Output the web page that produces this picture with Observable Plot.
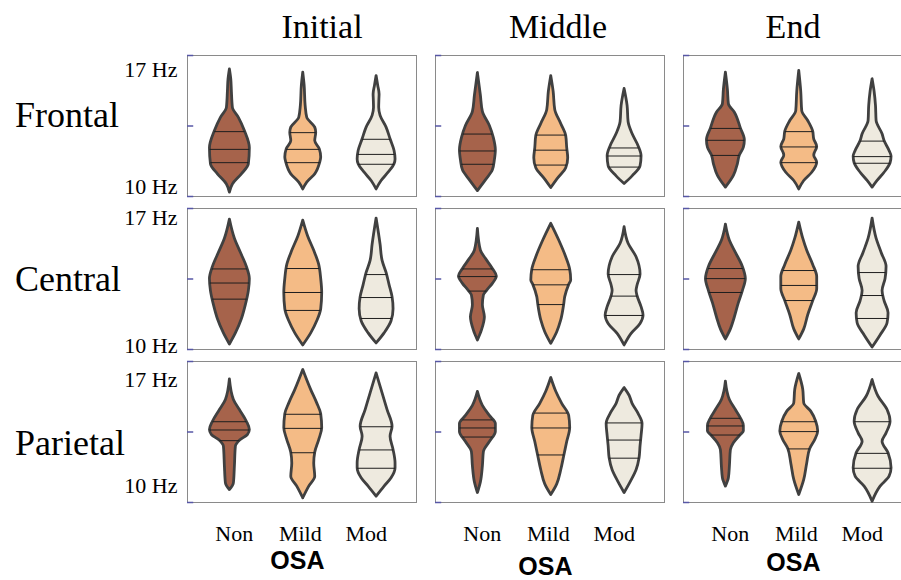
<!DOCTYPE html>
<html><head><meta charset="utf-8">
<script src="https://cdn.jsdelivr.net/npm/d3@7"></script>
<script src="https://cdn.jsdelivr.net/npm/@observablehq/plot@0.6"></script>
<style>html,body{margin:0;padding:0;background:#fff;overflow:hidden} svg{max-width:none !important}</style>
</head><body><div id="chart"></div>
<script>
// ---- data ----
const columns = ["Initial", "Middle", "End"];
const rows = ["Frontal", "Central", "Parietal"];
const groups = ["Non", "Mild", "Mod"];
const groupColors = ["#a6634b", "#f4bb86", "#eeeadf"];
const yTicks = [10, 13.5, 17];
const yTickLabels = [[17, "17 Hz"], [10, "10 Hz"]];
const axisTitle = "OSA";

// violin profiles: [Hz, relative density] bottom to top, for Non, Mild, Mod
const profFrontalInitial = [
  [[10.19,0],[10.6,0.15],[11.1,0.6],[11.6,0.95],[12.4,1.0],[13.25,0.75],[13.9,0.45],[14.4,0.15],[15.2,0.1],[15.8,0.07],[16.31,0]],
  [[10.35,0],[10.69,0.2],[11.1,0.6],[11.68,0.85],[11.93,0.9],[12.34,0.83],[12.75,0.6],[13.17,0.65],[13.42,0.6],[13.91,0.2],[14.5,0.12],[15.5,0.07],[16.15,0]],
  [[10.35,0],[10.77,0.25],[11.18,0.6],[11.6,0.9],[11.84,0.95],[12.26,0.9],[12.84,0.7],[13.42,0.5],[14.0,0.2],[14.41,0.13],[14.8,0.14],[15.07,0.15],[15.5,0.08],[15.98,0]]
];
const profFrontalMiddle = [
  [[10.27,0],[10.8,0.4],[11.3,0.75],[11.8,0.85],[12.3,0.9],[12.9,0.8],[13.5,0.6],[14.2,0.25],[15.0,0.15],[16.13,0]],
  [[10.42,0],[10.9,0.35],[11.4,0.75],[11.9,0.85],[12.4,0.8],[13.0,0.75],[13.6,0.5],[14.3,0.2],[15.2,0.12],[15.98,0]],
  [[10.62,0],[11.0,0.4],[11.5,0.8],[12.0,0.85],[12.5,0.7],[13.1,0.4],[13.7,0.2],[14.5,0.15],[15.34,0]]
];
const profFrontalEnd = [
  [[10.44,0],[11.02,0.4],[11.6,0.6],[12.04,0.7],[12.42,0.9],[12.79,0.95],[13.38,0.75],[14.16,0.45],[14.58,0.15],[15.3,0.1],[16.15,0]],
  [[10.35,0],[10.77,0.25],[11.18,0.65],[11.68,0.9],[12.04,0.75],[12.46,0.9],[12.84,0.75],[13.22,0.7],[13.75,0.45],[14.24,0.15],[15.2,0.1],[16.23,0]],
  [[10.44,0],[10.77,0.25],[11.18,0.6],[11.65,0.9],[11.98,0.95],[12.26,0.85],[12.75,0.6],[13.09,0.5],[13.75,0.2],[14.5,0.17],[15.2,0.1],[15.82,0]]
];
const profCentralInitial = [
  [[10.25,0],[10.8,0.3],[11.5,0.6],[12.2,0.8],[12.9,0.95],[13.5,1.0],[14.1,0.85],[14.8,0.55],[15.5,0.25],[16.45,0]],
  [[10.2,0],[10.8,0.4],[11.4,0.7],[12.0,0.9],[12.8,0.95],[13.5,0.9],[14.2,0.8],[14.9,0.55],[15.6,0.25],[16.4,0]],
  [[10.3,0],[10.8,0.4],[11.4,0.75],[12.0,0.85],[12.6,0.8],[13.2,0.65],[13.8,0.5],[14.4,0.3],[15.2,0.2],[16.5,0]]
];
const profCentralMiddle = [
  [[10.45,0],[10.94,0.2],[11.6,0.35],[12.2,0.25],[12.68,0.3],[12.9,0.45],[13.26,0.75],[13.62,0.95],[14.0,0.75],[14.5,0.4],[14.91,0.15],[15.99,0]],
  [[10.28,0],[10.86,0.3],[11.44,0.5],[12.23,0.65],[12.6,0.7],[13.21,0.9],[13.43,1.0],[13.96,0.95],[14.58,0.75],[15.41,0.4],[16.24,0]],
  [[10.2,0],[10.78,0.35],[11.27,0.8],[11.69,0.95],[12.1,0.85],[12.65,0.65],[12.9,0.6],[13.18,0.65],[13.72,0.8],[14.58,0.6],[15.25,0.2],[16.07,0]]
];
const profCentralEnd = [
  [[10.5,0],[11.0,0.25],[11.6,0.45],[12.3,0.65],[12.9,0.85],[13.5,1.0],[14.1,0.85],[14.8,0.5],[15.4,0.2],[16.2,0]],
  [[10.5,0],[11.0,0.25],[11.7,0.45],[12.4,0.7],[13.0,0.9],[13.6,0.9],[14.2,0.7],[14.9,0.4],[15.5,0.2],[16.3,0]],
  [[10.1,0],[10.7,0.4],[11.3,0.75],[11.8,0.8],[12.4,0.6],[12.9,0.5],[13.5,0.65],[14.1,0.7],[14.8,0.45],[15.5,0.2],[16.5,0]]
];
const profParietalInitial = [
  [[10.62,0],[10.95,0.2],[11.78,0.25],[12.77,0.3],[13.07,0.5],[13.35,0.9],[13.6,1.0],[14.01,0.85],[14.59,0.5],[15.09,0.2],[16.11,0]],
  [[10.21,0],[10.79,0.3],[11.28,0.6],[11.94,0.55],[12.47,0.6],[13.1,0.8],[13.68,0.95],[14.38,0.9],[14.92,0.7],[15.58,0.4],[16.58,0]],
  [[10.29,0],[10.79,0.4],[11.2,0.75],[11.7,0.95],[11.94,0.95],[12.61,0.85],[13.27,0.7],[13.76,0.8],[14.59,0.55],[15.42,0.3],[16.41,0]]
];
const profParietalMiddle = [
  [[10.47,0],[11.0,0.15],[11.8,0.25],[12.5,0.3],[13.0,0.6],[13.5,0.9],[13.9,0.9],[14.3,0.6],[14.8,0.25],[15.49,0]],
  [[10.37,0],[10.9,0.3],[11.6,0.5],[12.3,0.65],[13.0,0.8],[13.7,0.95],[14.3,0.9],[14.9,0.55],[15.5,0.25],[16.18,0]],
  [[10.47,0],[11.0,0.3],[11.6,0.6],[12.2,0.75],[12.8,0.8],[13.3,0.85],[13.9,0.9],[14.4,0.7],[14.9,0.4],[15.3,0.25],[15.68,0]]
];
const profParietalEnd = [
  [[10.79,0],[11.2,0.15],[11.78,0.2],[12.6,0.25],[12.94,0.4],[13.35,0.75],[13.52,0.9],[13.8,0.9],[14.18,0.75],[14.59,0.5],[15.09,0.2],[16.0,0]],
  [[10.37,0],[11.12,0.25],[11.94,0.4],[12.66,0.55],[13.1,0.8],[13.52,0.95],[14.01,0.85],[14.51,0.6],[14.92,0.25],[15.6,0.2],[16.38,0]],
  [[10.04,0],[10.79,0.4],[11.28,0.85],[11.7,0.95],[12.44,0.8],[13.02,0.5],[13.43,0.7],[14.01,0.9],[14.59,0.75],[15.25,0.3],[16.08,0]]
];

// quartiles [Q1, median, Q3] for Non, Mild, Mod
const quartFrontalInitial = [[11.68,12.34,13.22],[11.68,12.34,13.17],[11.6,12.09,12.84]];
const quartFrontalMiddle = [[11.6,12.26,13.1],[11.56,12.3,13.05],[11.46,12.01,12.41]];
const quartFrontalEnd = [[12.04,12.79,13.38],[11.68,12.46,13.22],[11.65,11.98,12.75]];
const quartCentralInitial = [[12.5,13.3,14.0],[11.94,12.83,14.02],[11.54,12.58,13.72]];
const quartCentralMiddle = [[12.9,13.62,14.0],[12.23,13.21,13.96],[11.69,12.65,13.72]];
const quartCentralEnd = [[12.83,13.52,14.02],[12.43,13.18,13.92],[11.54,12.68,13.82]];
const quartParietalInitial = [[13.07,13.6,14.01],[12.47,13.68,14.38],[11.7,12.61,13.76]];
const quartParietalMiddle = [[13.25,13.7,14.1],[12.36,13.7,14.44],[12.2,13.1,13.95]];
const quartParietalEnd = [[13.35,13.8,14.18],[12.66,13.52,14.01],[11.7,12.44,14.01]];

// ---- tables for Plot ----
const profiles = {
  Frontal: {Initial: profFrontalInitial, Middle: profFrontalMiddle, End: profFrontalEnd},
  Central: {Initial: profCentralInitial, Middle: profCentralMiddle, End: profCentralEnd},
  Parietal: {Initial: profParietalInitial, Middle: profParietalMiddle, End: profParietalEnd}
};
const quartiles = {
  Frontal: {Initial: quartFrontalInitial, Middle: quartFrontalMiddle, End: quartFrontalEnd},
  Central: {Initial: quartCentralInitial, Middle: quartCentralMiddle, End: quartCentralEnd},
  Parietal: {Initial: quartParietalInitial, Middle: quartParietalMiddle, End: quartParietalEnd}
};

const K = 0.272; // density -> half-width in x units
function widthAt(prof, hz) {
  for (let i = 0; i < prof.length - 1; i++) {
    const [a, wa] = prof[i], [b, wb] = prof[i + 1];
    if (hz >= a && hz <= b) return wa + (wb - wa) * (hz - a) / (b - a);
  }
  return 0;
}

const areaPts = [], qPts = [];
for (const r of rows) for (const c of columns) groups.forEach((g, gi) => {
  const prof = profiles[r][c][gi];
  for (const [hz, w] of prof) areaPts.push({row: r, col: c, group: g, gi, key: r + c + g, hz, w});
  for (const q of quartiles[r][c][gi]) qPts.push({row: r, col: c, group: g, gi, hz: q, w: widthAt(prof, q)});
});

const xDom = [-0.578, 2.544];
const serif = "Liberation Serif, Times New Roman, serif";

const rowLabelDy = {Frontal: -11, Central: 0, Parietal: 11};
const tickLabelDy = {Frontal: [14.5, -9.5], Central: [9.5, -4], Parietal: [18.5, -16.5]};
const titleDx = {Initial: 20, Middle: 8, End: -5};
const osaDy = {Initial: 58, Middle: 64, End: 60};

const marks = [
  Plot.frame({stroke: "#8a8a8a", strokeWidth: 1}),
  Plot.ruleY(yTicks, {x1: xDom[0], x2: xDom[0] + 0.085, stroke: "#5757a6", strokeWidth: 1.5}),
  Plot.areaX(areaPts, {
    fx: "col", fy: "row", y: "hz", z: "key",
    x1: d => d.gi - d.w * K, x2: d => d.gi + d.w * K,
    fill: "group", stroke: "#404040", strokeWidth: 2.8, strokeLinejoin: "round",
    curve: "monotone-y"
  }),
  Plot.ruleY(qPts, {
    fx: "col", fy: "row", y: "hz",
    x1: d => d.gi - d.w * K, x2: d => d.gi + d.w * K,
    stroke: "#1e1e1e", strokeWidth: 1
  })
];

// column titles
for (const c of columns) marks.push(Plot.text([c], {
  fx: d => d, fy: () => "Frontal", frameAnchor: "top", dy: -28, dx: titleDx[c],
  text: d => d, fontSize: 34, fontFamily: serif, fill: "#000", lineAnchor: "middle"
}));
// row labels and y tick labels
for (const r of rows) {
  marks.push(Plot.text([r], {
    fx: () => "Initial", fy: d => d, frameAnchor: "left", textAnchor: "start",
    dx: -172.5, dy: rowLabelDy[r], text: d => d, fontSize: 36, fontFamily: serif, fill: "#000"
  }));
  yTickLabels.forEach(([v, lab], i) => marks.push(Plot.text([lab], {
    fx: () => "Initial", fy: () => r, x: xDom[0], y: () => v, textAnchor: "end",
    dx: -10, dy: tickLabelDy[r][i], text: d => d, fontSize: 22, fontFamily: serif, fill: "#000"
  })));
}
// category labels and axis title
const catLabels = columns.flatMap(c => groups.map((g, gi) => ({col: c, g, gi})));
marks.push(Plot.text(catLabels, {
  fx: "col", fy: () => "Parietal", x: d => 0.06 + 0.9 * d.gi, frameAnchor: "bottom",
  dy: 31, text: "g", fontSize: 22, fontFamily: serif, fill: "#000", lineAnchor: "middle"
}));
for (const c of columns) marks.push(Plot.text([axisTitle], {
  fx: () => c, fy: () => "Parietal", x: 0.92, frameAnchor: "bottom", dy: osaDy[c],
  text: d => d, fontSize: 25, fontWeight: "bold", fontFamily: "Liberation Sans, Arial, sans-serif",
  fill: "#000", lineAnchor: "middle"
}));

const chart = Plot.plot({
  width: 913, height: 580,
  marginLeft: 185.5, marginRight: 0, marginTop: 54.5, marginBottom: 77.5,
  fx: {domain: columns, axis: null, paddingInner: 0.078, paddingOuter: 0},
  fy: {domain: rows, axis: null, paddingInner: 0.0814, paddingOuter: 0},
  x: {domain: xDom, axis: null},
  y: {domain: [10, 17], axis: null},
  color: {domain: groups, range: groupColors},
  style: {background: "#fff", overflow: "visible", maxWidth: "none"},
  marks
});
document.getElementById("chart").appendChild(chart);
</script></body></html>
